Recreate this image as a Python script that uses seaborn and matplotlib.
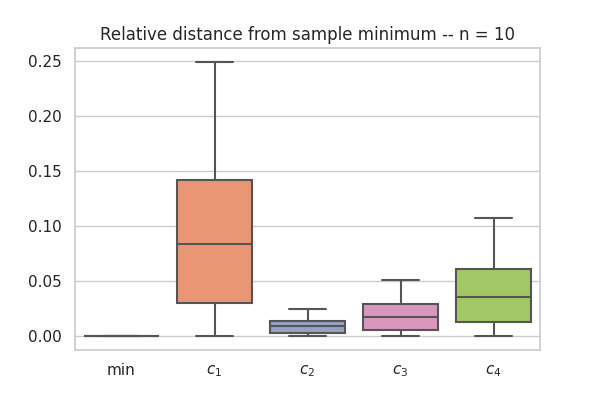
import matplotlib
matplotlib.use('Agg')
import matplotlib.pyplot as plt
import seaborn as sns
import pandas as pd

# 各列数据 (n = 10)
labels = ['min', '$c_1$', '$c_2$', '$c_3$', '$c_4$']
d_min = [0.0] * 10
d_c1 = [0, 0.012, 0.025, 0.046, 0.071, 0.097, 0.135, 0.144, 0.19, 0.249]
d_c2 = [0, 0.001, 0.002, 0.005, 0.008, 0.0102, 0.012, 0.0141, 0.019, 0.0248]
d_c3 = [0, 0.002, 0.004, 0.0112, 0.015, 0.0202, 0.026, 0.030, 0.041, 0.051]
d_c4 = [0, 0.005, 0.009, 0.024, 0.031, 0.0406, 0.055, 0.063, 0.087, 0.1076]

df = pd.DataFrame({labels[0]: d_min, labels[1]: d_c1, labels[2]: d_c2,
                   labels[3]: d_c3, labels[4]: d_c4})

sns.set_theme(style="whitegrid")
fig, ax = plt.subplots(figsize=(6, 4), dpi=100)

sns.boxplot(data=df, ax=ax, palette='Set2', width=0.8, saturation=0.75,
            linecolor='#555555', linewidth=1.5)

ax.set_title('Relative distance from sample minimum -- n = 10', fontsize=12)
ax.tick_params(labelsize=11)
for s in ax.spines.values():
    s.set_color('#cccccc')

plt.subplots_adjust(left=0.125, right=0.9, top=0.88, bottom=0.125)
plt.savefig('out.png', dpi=100)
